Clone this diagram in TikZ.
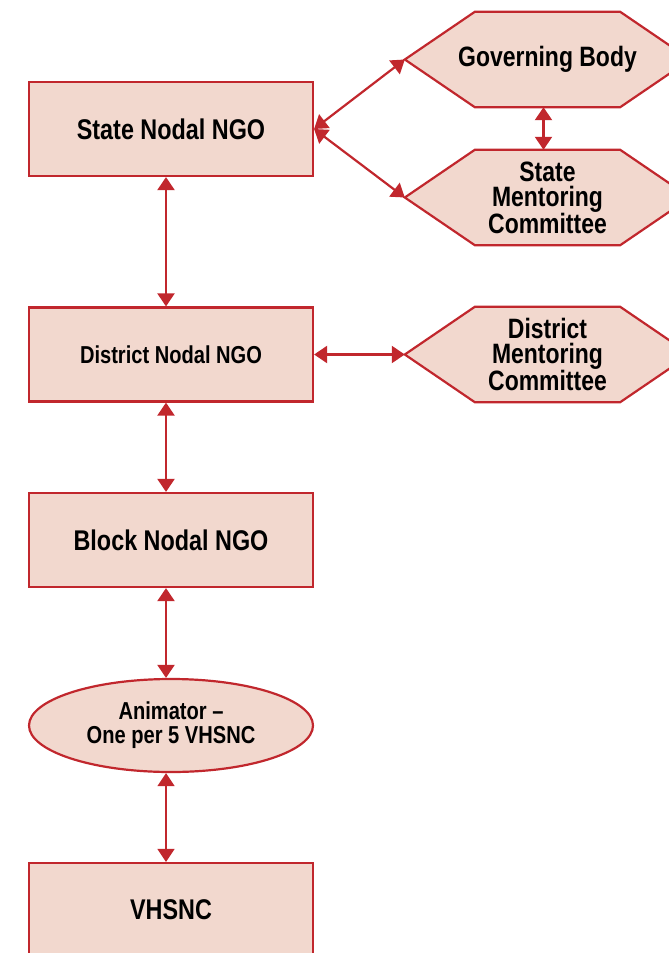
\documentclass[tikz,border=0pt]{standalone}
\usepackage{fontspec}
\setmainfont{Liberation Sans}[FakeStretch=0.82]
\usetikzlibrary{arrows.meta,shapes.geometric,backgrounds}
\definecolor{framered}{HTML}{C1272D}
\definecolor{boxfill}{HTML}{F2D8CE}
\tikzset{
  box/.style={draw=framered,fill=boxfill,line width=2.2pt,minimum width=284pt,minimum height=94pt,inner sep=0pt,align=center,font=\fontsize{28.5}{25}\selectfont\bfseries},
  ell/.style={ellipse,draw=framered,fill=boxfill,line width=2.2pt,minimum width=284pt,minimum height=93pt,inner sep=0pt,align=center,font=\fontsize{24.5}{24}\selectfont\bfseries},
  hexn/.style={draw=none,minimum width=285pt,minimum height=95pt,inner sep=0pt,align=center,font=\fontsize{28}{25}\selectfont\bfseries},
  hexdraw/.style={draw=framered,fill=boxfill,line width=2.2pt,line join=miter},
  link/.style={draw=framered,line width=2.2pt,{Triangle[length=13pt,width=17pt]}-{Triangle[length=13pt,width=17pt]}},
  thinlink/.style={link,line width=1.3pt},
}
\begin{document}
\begin{tikzpicture}[x=1pt,y=1pt]
\useasboundingbox (0,0) rectangle (669,-953);
\clip (0,0) rectangle (669,-953);
% left column
\node[box] (sn) at (171,-129) {State Nodal NGO};
\node[box,font=\fontsize{24.5}{24}\selectfont\bfseries] (dn) at (171,-354.5) {District Nodal NGO};
\node[box] (bn) at (171,-540) {Block Nodal NGO};
\node[ell] (an) at (171,-725.5) {Animator --\\One per 5 VHSNC};
\node[box] (vh) at (171,-910) {VHSNC};
% hexagons
\node[hexn] (gb) at (547.5,-59.5) {Governing Body};
\node[hexn] (smc) at (547.5,-197.5) {State\\Mentoring\\Committee};
\node[hexn] (dmc) at (547.5,-354.5) {District\\Mentoring\\Committee};
\begin{pgfonlayer}{background}
\foreach \h in {gb,smc,dmc}{
  \draw[hexdraw] (\h.west) -- ([xshift=70pt]\h.north west) -- ([xshift=-70pt]\h.north east) -- (\h.east) -- ([xshift=-70pt]\h.south east) -- ([xshift=70pt]\h.south west) -- cycle;
}
\end{pgfonlayer}
% connectors
\draw[link] (sn.east) -- (gb.west);
\draw[link] (sn.east) -- (smc.west);
\draw[link] ([xshift=-4pt]gb.south) -- ([xshift=-4pt]smc.north);
\draw[link] (dn.east) -- (dmc.west);
\draw[link] ([xshift=-5pt]sn.south) -- ([xshift=-5pt]dn.north);
\draw[link] ([xshift=-5pt]dn.south) -- ([xshift=-5pt]bn.north);
\draw[link] ([xshift=-5pt]bn.south) -- ([xshift=-5pt]an.north);
\draw[thinlink] ([xshift=-5pt]an.south) -- ([xshift=-5pt]vh.north);
\end{tikzpicture}
\end{document}
